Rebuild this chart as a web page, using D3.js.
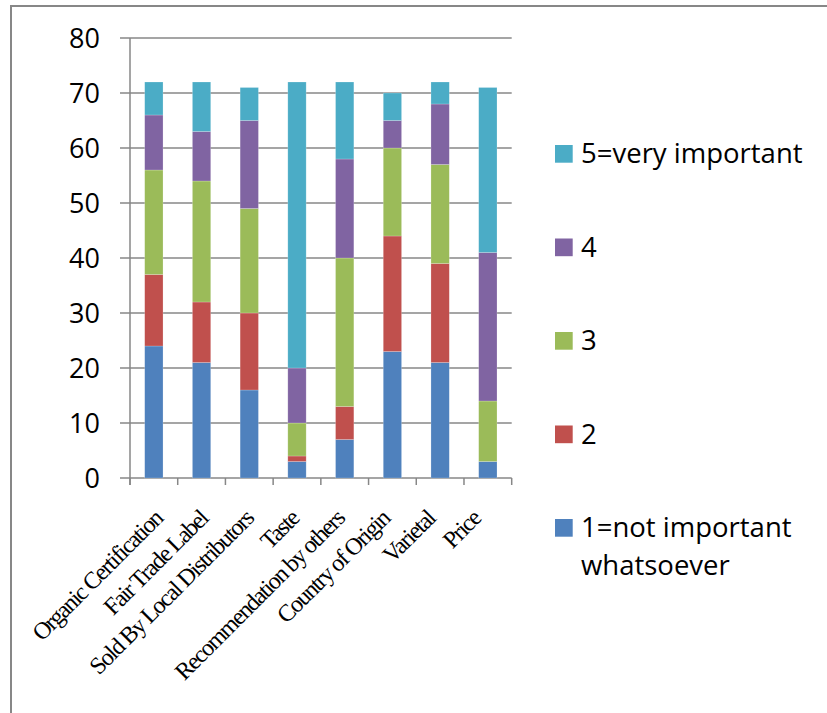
<!DOCTYPE html>
<html>
<head>
<meta charset="utf-8">
<script src="https://cdn.jsdelivr.net/npm/d3@7"></script>
<style>
  html, body { margin: 0; padding: 0; background: #fff; }
  svg { display: block; }
</style>
</head>
<body>
<svg id="chart" width="827" height="713"></svg>
<script>
// ---- data ----
const categories = ["Organic Certification", "Fair Trade Label", "Sold By Local Distributors", "Taste",
                    "Recommendation by others", "Country of Origin", "Varietal", "Price"];
const seriesNames = ["1=not important whatsoever", "2", "3", "4", "5=very important"];
const s1 = [24, 21, 16, 3, 7, 23, 21, 3];
const s2 = [13, 11, 14, 1, 6, 21, 18, 0];
const s3 = [19, 22, 19, 6, 27, 16, 18, 11];
const s4 = [10, 9, 16, 10, 18, 5, 11, 27];
const s5 = [6, 9, 6, 52, 14, 5, 4, 30];
const yTicks = [0, 10, 20, 30, 40, 50, 60, 70, 80];
const colors = ["#4F81BD", "#C0504D", "#9BBB59", "#8064A2", "#4BACC6"];

const seriesValues = [s1, s2, s3, s4, s5];
const rows = categories.map((c, i) => {
  const r = { cat: c };
  seriesNames.forEach((s, k) => r[s] = seriesValues[k][i]);
  return r;
});

const svg = d3.select("#chart");

// outer border
svg.append("rect").attr("x", 11).attr("y", 6).attr("width", 830).attr("height", 720)
  .attr("fill", "none").attr("stroke", "#878787").attr("stroke-width", 2);

const x = d3.scaleBand().domain(categories).range([130, 511.7]).paddingInner(0.616).paddingOuter(0.308);
const y = d3.scaleLinear().domain([0, 80]).range([478, 38]);

// gridlines
svg.append("g").selectAll("line").data(yTicks).join("line")
  .attr("x1", 120).attr("x2", 511.7)
  .attr("y1", d => y(d)).attr("y2", d => y(d))
  .attr("stroke", "#878787").attr("stroke-width", 1.5);

// y axis line
svg.append("line").attr("x1", 130).attr("x2", 130).attr("y1", y(80)).attr("y2", y(0) + 7)
  .attr("stroke", "#878787").attr("stroke-width", 1.5);

// x tick marks at band boundaries
const bounds = categories.map(c => x(c) - x.step() * x.paddingInner() / 2).concat([511.7]);
svg.append("g").selectAll("line").data(bounds).join("line")
  .attr("x1", d => d).attr("x2", d => d)
  .attr("y1", y(0)).attr("y2", y(0) + 7)
  .attr("stroke", "#878787").attr("stroke-width", 1.5);

// y labels
svg.append("g").selectAll("text").data(yTicks).join("text")
  .attr("x", 100).attr("y", d => y(d) + 9.5)
  .attr("text-anchor", "end")
  .attr("font-family", "'Open Sans', Lato, sans-serif").attr("font-size", 27)
  .attr("fill", "#000")
  .text(d => d);

// stacked bars
const stack = d3.stack().keys(seriesNames)(rows);
svg.append("g").selectAll("g").data(stack).join("g")
  .attr("fill", (d, i) => colors[i])
  .selectAll("rect").data(d => d).join("rect")
  .attr("x", d => x(d.data.cat))
  .attr("width", x.bandwidth())
  .attr("y", d => y(d[1]))
  .attr("height", d => y(d[0]) - y(d[1]))
  .attr("stroke", "rgba(255,255,255,0.35)").attr("stroke-width", 0.6);

// x labels (rotated)
const xl = d3.scalePoint().domain(categories).range([164, 482]);
svg.append("g").selectAll("text").data(categories).join("text")
  .attr("transform", d => `translate(${xl(d)},520) rotate(-45)`)
  .attr("text-anchor", "end")
  .attr("font-family", "'Liberation Serif', 'Times New Roman', serif")
  .attr("font-size", 24)
  .attr("letter-spacing", -1.5)
  .attr("fill", "#000")
  .text(d => d);

// legend
const legendOrder = [4, 3, 2, 1, 0];
const lg = svg.append("g");
legendOrder.forEach((k, j) => {
  const top = 145 + j * 93.5;
  lg.append("rect").attr("x", 555).attr("y", top).attr("width", 17.7).attr("height", 17.7)
    .attr("fill", colors[k]);
  const t = lg.append("text").attr("x", 581).attr("y", top + 18.3)
    .attr("font-family", "'Open Sans', Lato, sans-serif").attr("font-size", 27.5)
    .attr("fill", "#000");
  const name = seriesNames[k];
  if (name === "1=not important whatsoever") {
    t.append("tspan").attr("x", 581).text("1=not important");
    t.append("tspan").attr("x", 581).attr("dy", 38).text("whatsoever");
  } else {
    t.text(name);
  }
});
</script>
</body>
</html>
